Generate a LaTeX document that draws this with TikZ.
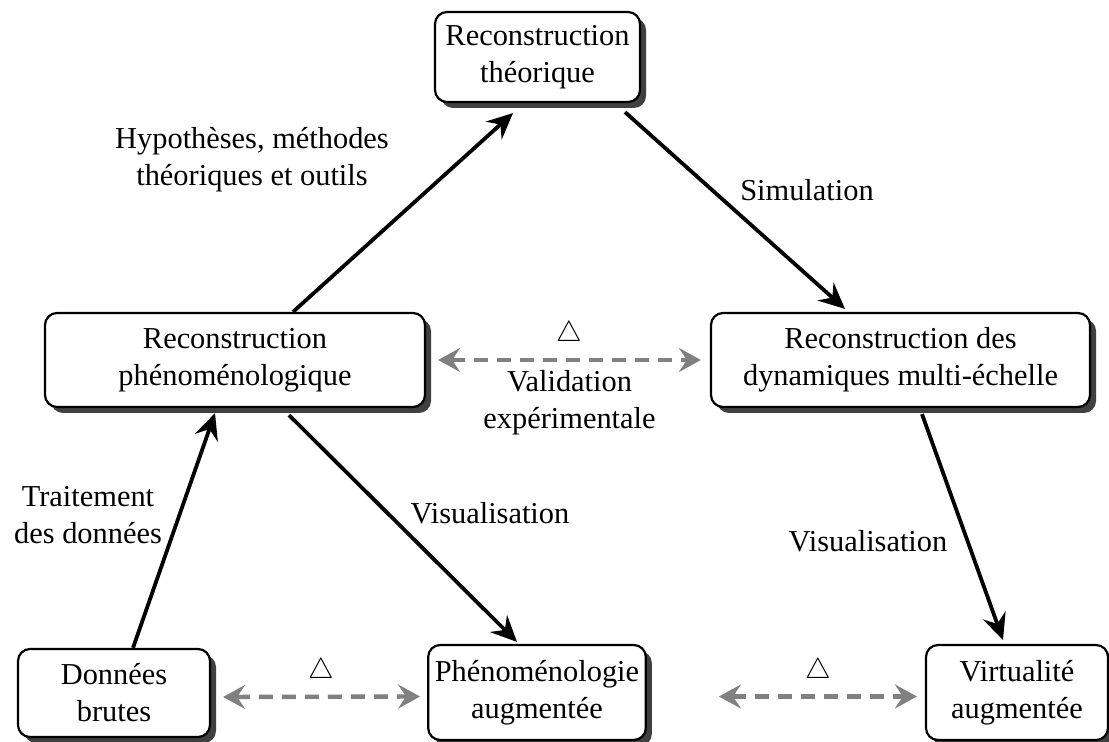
\documentclass[tikz,border=0pt]{standalone}
\usepackage{fontspec}
\setmainfont{Liberation Serif}
\usetikzlibrary{arrows.meta,shadows}
\tikzset{
  bloc/.style={draw, line width=1.1pt, rounded corners=6pt, fill=white, align=center,
    minimum height=45pt,
    drop shadow={shadow xshift=3pt, shadow yshift=-3pt, fill=black!75, opacity=1}},
  fleche/.style={line width=1.9pt, -{Stealth[length=13pt,width=12pt,inset=4.5pt]}},
  lien/.style={black!50, line width=2.2pt, dash pattern=on 7pt off 4.5pt,
    {Stealth[length=11pt,width=12pt,inset=4pt]}-{Stealth[length=11pt,width=12pt,inset=4pt]}},
  every node/.append style={font=\fontsize{15.2}{18.5}\selectfont, align=center}
}
\begin{document}
\begin{tikzpicture}[x=0.5pt,y=-0.5pt]
\useasboundingbox (0,0) rectangle (1109,742);
\node[bloc, minimum width=102.5pt] (t) at (537.5,57) {Reconstruction\\théorique};
\node[bloc, minimum width=190pt, minimum height=47pt] (p) at (235,360) {Reconstruction\\phénoménologique};
\node[bloc, minimum width=189.5pt, minimum height=47pt] (d) at (900.5,360) {Reconstruction des\\dynamiques multi-échelle};
\node[bloc, minimum width=96pt, minimum height=44pt] (b) at (114,693) {Données\\brutes};
\node[bloc, minimum width=103pt, minimum height=47.5pt] (a) at (537,692.5) {Phénoménologie\\augmentée};
\node[bloc, minimum width=91pt, minimum height=47.5pt] (v) at (1017,692.5) {Virtualité\\augmentée};

\draw[fleche] ([xshift=29pt]p.north) -- ([xshift=-12.25pt,yshift=-5pt]t.south);
\draw[fleche] ([xshift=43.75pt,yshift=-4.5pt]t.south) -- ([xshift=-27.75pt,yshift=1.5pt]d.north);
\draw[fleche] ([xshift=27pt,yshift=-3.5pt]p.south) -- ([xshift=-10pt,yshift=1pt]a.north);
\draw[fleche] ([xshift=9.5pt]b.north) -- ([xshift=-10pt,yshift=-2.5pt]p.south);
\draw[fleche] ([xshift=10.75pt,yshift=-3pt]d.south) -- ([xshift=-7pt,yshift=2pt]v.north);

\draw[lien] ([xshift=6pt]p.east) -- ([xshift=-4.5pt]d.west)
  node [midway, above=2pt, text=black] {$\triangle$}
  node [midway, below=1pt, text=black] {Validation\\expérimentale};
\draw[lien] ([xshift=6pt,yshift=-2pt]b.east) -- ([xshift=-3.5pt,yshift=-2pt]a.west)
  node [midway, above=2pt, text=black] {$\triangle$};
\draw[lien] ([xshift=36pt,yshift=-2pt]a.east) -- ([xshift=-4pt,yshift=-2pt]v.west)
  node [midway, above=2pt, text=black] {$\triangle$};

\node (h) at (252,160) {Hypothèses, méthodes\\théoriques et outils};
\node (s) at (807,190) {Simulation};
\node (tr) at (88,515) {Traitement\\des données};
\node (v1) at (490,513) {Visualisation};
\node (v2) at (868,541) {Visualisation};
\end{tikzpicture}
\end{document}
